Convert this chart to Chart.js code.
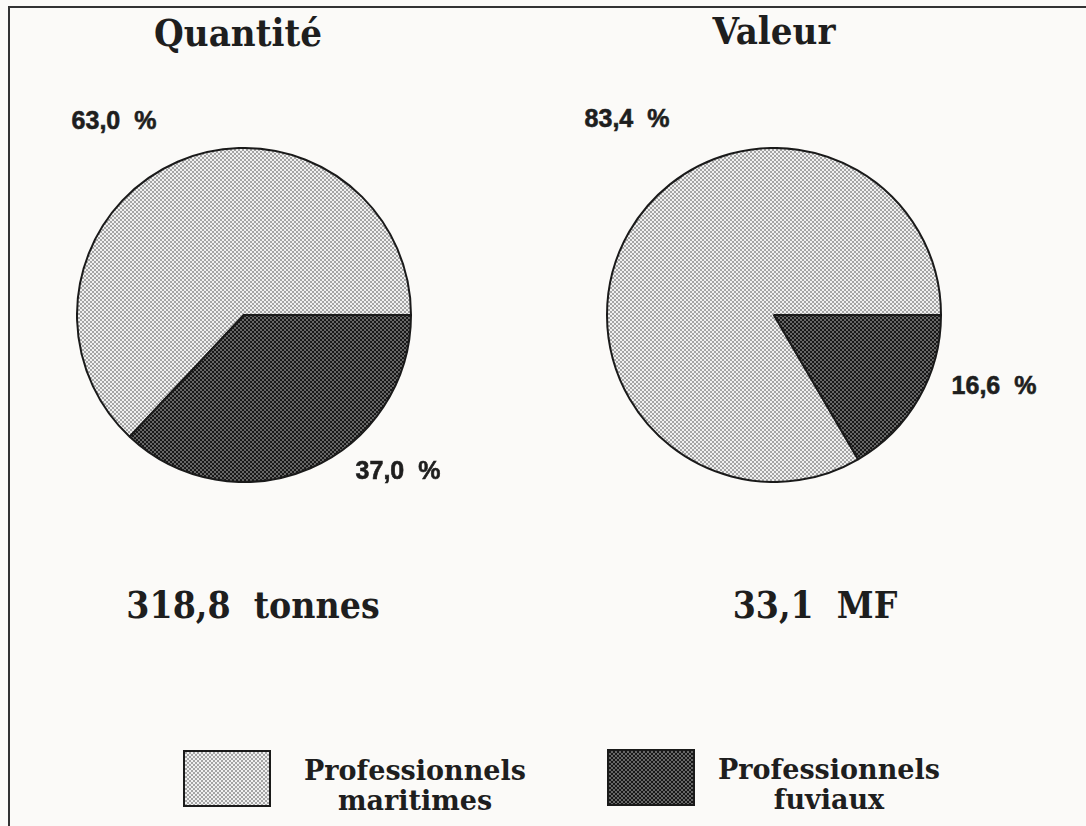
<!DOCTYPE html>
<html lang="fr">
<head>
<meta charset="UTF-8" />
<title>Professionnels maritimes et fluviaux</title>
<script src="https://cdn.jsdelivr.net/npm/chart.js"></script>
<style>
    html, body {
        margin: 0;
        padding: 0;
        background: #fbfaf8;
    }
    #page {
        position: relative;
        width: 1086px;
        height: 826px;
        overflow: hidden;
        color: #1e1e1e;
    }
    #frame {
        position: absolute;
        left: 8px;
        top: 6px;
        right: -10px;
        bottom: -10px;
        border-top: 2px solid #333;
        border-left: 2px solid #333;
    }
    .txt {
        position: absolute;
        transform: translate(-50%, -50%);
        white-space: pre;
        text-align: center;
    }
    .title, .total {
        font-family: "DejaVu Serif Condensed", "DejaVu Serif", serif;
        font-stretch: condensed;
        font-weight: bold;
    }
    .title { font-size: 38px; }
    .total { font-size: 37px; }
    .pct {
        font-family: "Liberation Sans", Arial, sans-serif;
        font-weight: bold;
        font-size: 25px;
        -webkit-text-stroke: 0.6px #1e1e1e;
    }
    .leg {
        font-family: "DejaVu Serif", serif;
        font-weight: bold;
        font-size: 27px;
        line-height: 30px;
    }
    .pie {
        position: absolute;
        width: 336px;
        height: 336px;
    }
    .swatch {
        position: absolute;
        width: 88px;
        height: 57px;
    }
</style>
</head>
<body>
<div id="page">
    <div id="frame"></div>

    <div class="txt title" style="left:238px; top:32px">Quantité</div>
    <div class="txt title" style="left:774px; top:30px">Valeur</div>

    <div class="pie" style="left:76px; top:147px"><canvas id="pieQuantite"></canvas></div>
    <div class="pie" style="left:606px; top:147px"><canvas id="pieValeur"></canvas></div>

    <div class="txt pct" id="q0" style="left:114px; top:120px"></div>
    <div class="txt pct" id="q1" style="left:398px; top:470px"></div>
    <div class="txt pct" id="v0" style="left:627px; top:118px"></div>
    <div class="txt pct" id="v1" style="left:994px; top:385px"></div>

    <div class="txt total" id="totQ" style="left:253px; top:605px"></div>
    <div class="txt total" id="totV" style="left:815px; top:605px"></div>

    <canvas class="swatch" id="sw0" width="88" height="57" style="left:183px; top:750px"></canvas>
    <div class="txt leg" id="leg0" style="left:415px; top:786px"></div>
    <canvas class="swatch" id="sw1" width="88" height="57" style="left:607px; top:749px"></canvas>
    <div class="txt leg" id="leg1" style="left:829px; top:785px"></div>
</div>

<script>
    // Répartition entre professionnels maritimes et fluviaux
    const categories = ["Professionnels\nmaritimes", "Professionnels\nfuviaux"];
    const quantite = [63.0, 37.0];   // % de la quantité
    const valeur = [83.4, 16.6];     // % de la valeur
    const totalQuantite = 318.8;     // tonnes
    const totalValeur = 33.1;        // MF

    const fr = (v) => v.toFixed(1).replace(".", ",");

    // Trames pointillées (clair / foncé)
    function makeTile(a, b) {
        const t = document.createElement("canvas");
        t.width = 4;
        t.height = 4;
        const c = t.getContext("2d");
        c.fillStyle = a;
        c.fillRect(0, 0, 4, 4);
        c.fillStyle = b;
        c.fillRect(0, 0, 2, 2);
        c.fillRect(2, 2, 2, 2);
        return t;
    }
    const tileLight = makeTile("#f0f0f0", "#a4a4a4");
    const tileDark = makeTile("#666666", "#181818");
    const probe = document.createElement("canvas").getContext("2d");
    const fills = [
        probe.createPattern(tileLight, "repeat"),
        probe.createPattern(tileDark, "repeat"),
    ];

    function makePie(id, values) {
        return new Chart(document.getElementById(id), {
            type: "pie",
            data: {
                labels: categories,
                datasets: [{
                    data: values,
                    backgroundColor: fills,
                    borderColor: "#1a1a1a",
                    borderWidth: 2,
                    borderAlign: "center",
                }],
            },
            options: {
                responsive: true,
                maintainAspectRatio: false,
                animation: false,
                // the dark slice starts at 3 o'clock and runs clockwise
                rotation: 90 + values[1] * 3.6,
                layout: { padding: 0 },
                plugins: {
                    legend: { display: false },
                    tooltip: { enabled: false },
                },
            },
        });
    }

    makePie("pieQuantite", quantite);
    makePie("pieValeur", valeur);

    document.getElementById("q0").textContent = fr(quantite[0]) + "  %";
    document.getElementById("q1").textContent = fr(quantite[1]) + "  %";
    document.getElementById("v0").textContent = fr(valeur[0]) + "  %";
    document.getElementById("v1").textContent = fr(valeur[1]) + "  %";
    document.getElementById("totQ").textContent = fr(totalQuantite) + "  tonnes";
    document.getElementById("totV").textContent = fr(totalValeur) + "  MF";

    // Légende commune
    [0, 1].forEach((i) => {
        document.getElementById("leg" + i).textContent = categories[i];
        const sw = document.getElementById("sw" + i).getContext("2d");
        sw.fillStyle = sw.createPattern(i === 0 ? tileLight : tileDark, "repeat");
        sw.fillRect(0, 0, 88, 57);
        sw.strokeStyle = "#1a1a1a";
        sw.lineWidth = 2;
        sw.strokeRect(1, 1, 86, 55);
    });
</script>
</body>
</html>
